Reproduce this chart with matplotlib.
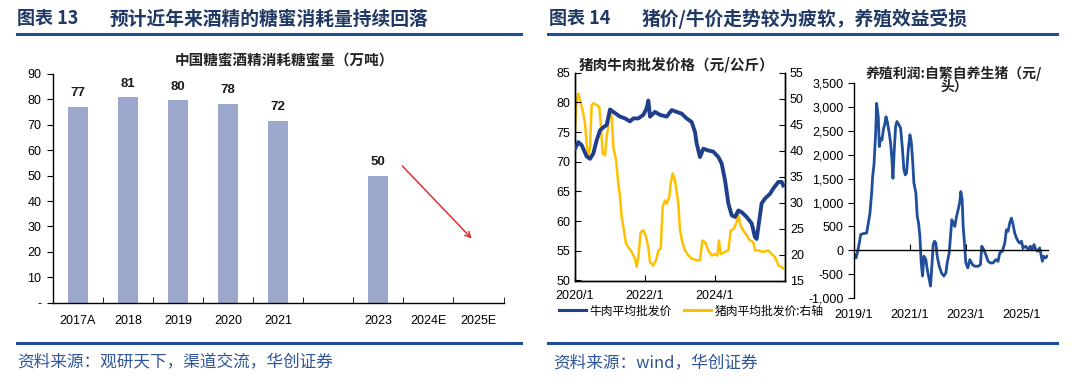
import numpy as np
import matplotlib
matplotlib.use("Agg")
import matplotlib.pyplot as plt
from matplotlib.lines import Line2D
from matplotlib.ticker import FuncFormatter

# ---------------- data ----------------
bar_cats = ['2017A', '2018', '2019', '2020', '2021', '', '2023', '2024E', '2025E']
bar_vals = [77.2, 80.8, 79.6, 78.2, 71.6, np.nan, 50.0, np.nan, np.nan]

beef_t = [2020.0, 2020.095, 2020.19, 2020.333, 2020.429, 2020.524, 2020.619, 2020.714, 2020.81,
          2020.905, 2021.0, 2021.095, 2021.19, 2021.286, 2021.429, 2021.571, 2021.667, 2021.81,
          2021.952, 2022.048, 2022.095, 2022.143, 2022.286, 2022.429, 2022.619, 2022.762, 2022.905,
          2023.048, 2023.19, 2023.333, 2023.429, 2023.476, 2023.571, 2023.667, 2023.81, 2023.952,
          2024.095, 2024.19, 2024.286, 2024.381, 2024.476, 2024.571, 2024.667, 2024.762, 2024.905,
          2025.048, 2025.143, 2025.19, 2025.238, 2025.333, 2025.429, 2025.571, 2025.667, 2025.81,
          2025.905, 2025.95]
beef_v = [72.2, 73.3, 72.8, 70.9, 70.5, 71.4, 73.6, 75.3, 75.8,
          76.2, 78.8, 78.4, 78.0, 77.6, 77.3, 76.8, 77.3, 77.3,
          77.9, 79.0, 80.3, 77.6, 78.4, 77.9, 77.6, 78.7, 78.4,
          78.1, 77.3, 76.7, 75.0, 73.1, 70.8, 72.2, 71.9, 71.7,
          70.8, 69.7, 66.9, 63.0, 61.0, 60.7, 61.8, 61.5, 60.7,
          59.6, 57.3, 57.0, 59.0, 63.0, 63.8, 64.6, 65.5, 66.6,
          66.6, 66.0]

pork_t = [2020.0, 2020.048, 2020.095, 2020.143, 2020.238, 2020.286, 2020.333, 2020.381, 2020.429,
          2020.476, 2020.524, 2020.619, 2020.695, 2020.743, 2020.79, 2020.857, 2020.905, 2020.952,
          2021.0, 2021.048, 2021.095, 2021.171, 2021.238, 2021.286, 2021.333, 2021.4, 2021.457,
          2021.524, 2021.619, 2021.714, 2021.762, 2021.81, 2021.876, 2021.952, 2022.029, 2022.095,
          2022.143, 2022.238, 2022.314, 2022.381, 2022.448, 2022.505, 2022.571, 2022.619, 2022.695,
          2022.733, 2022.79, 2022.857, 2022.952, 2023.0, 2023.076, 2023.143, 2023.238, 2023.333,
          2023.476, 2023.571, 2023.638, 2023.714, 2023.81, 2023.905, 2024.0, 2024.067, 2024.114,
          2024.162, 2024.286, 2024.381, 2024.448, 2024.543, 2024.619, 2024.667, 2024.714, 2024.81,
          2024.905, 2025.0, 2025.095, 2025.143, 2025.238, 2025.381, 2025.524, 2025.619, 2025.714,
          2025.81, 2025.905, 2025.95]
pork_v = [43.9, 49.7, 51.0, 49.7, 47.2, 45.2, 41.4, 38.8, 40.7,
          48.8, 49.1, 48.8, 48.4, 44.6, 39.4, 39.1, 42.7, 44.6,
          47.8, 46.5, 40.7, 38.2, 33.6, 31.1, 27.2, 24.6, 22.1,
          21.4, 20.5, 19.2, 17.6, 19.5, 24.3, 24.7, 23.4, 21.4,
          18.5, 17.9, 18.9, 20.8, 21.1, 29.2, 30.4, 29.8, 31.1,
          33.6, 35.6, 34.3, 29.8, 24.6, 22.1, 20.8, 19.8, 19.2,
          18.9, 18.9, 22.7, 22.4, 20.8, 19.8, 20.1, 19.8, 22.7,
          20.1, 20.5, 20.8, 24.6, 25.0, 26.3, 27.9, 25.9, 24.6,
          23.7, 22.7, 22.4, 20.8, 20.8, 20.5, 20.8, 20.1, 19.5,
          17.9, 17.6, 17.3]

profit_t = [2019.036, 2019.071, 2019.119, 2019.19, 2019.238, 2019.333, 2019.452, 2019.512, 2019.571,
            2019.631, 2019.667, 2019.714, 2019.774, 2019.81, 2019.869, 2019.905, 2019.952, 2020.0,
            2020.048, 2020.107, 2020.143, 2020.19, 2020.262, 2020.31, 2020.357, 2020.393, 2020.44,
            2020.488, 2020.536, 2020.607, 2020.667, 2020.726, 2020.786, 2020.833, 2020.881, 2020.94,
            2021.0, 2021.048, 2021.095, 2021.143, 2021.214, 2021.262, 2021.31, 2021.357, 2021.405,
            2021.452, 2021.5, 2021.571, 2021.619, 2021.69, 2021.738, 2021.786, 2021.833, 2021.881,
            2021.929, 2021.976, 2022.048, 2022.131, 2022.214, 2022.286, 2022.333, 2022.405, 2022.452,
            2022.5, 2022.548, 2022.607, 2022.667, 2022.726, 2022.786, 2022.821, 2022.869, 2022.905,
            2022.952, 2023.0, 2023.071, 2023.143, 2023.238, 2023.321, 2023.44, 2023.524, 2023.571,
            2023.643, 2023.714, 2023.798, 2023.881, 2023.976, 2024.071, 2024.155, 2024.214, 2024.31,
            2024.393, 2024.452, 2024.512, 2024.571, 2024.631, 2024.69, 2024.75, 2024.81, 2024.869,
            2024.929, 2024.988, 2025.048, 2025.143, 2025.238, 2025.31, 2025.369, 2025.44, 2025.5,
            2025.571, 2025.643, 2025.69, 2025.738, 2025.786, 2025.857, 2025.905]
profit_v = [-100, -160, -56, 150, 330, 350, 360, 570, 780,
            1200, 1550, 1790, 2450, 3080, 2800, 2175, 2350, 2310,
            2520, 2660, 2800, 2700, 2450, 2240, 1900, 1510, 2100,
            2590, 2700, 2630, 2560, 2175, 1690, 1580, 1620, 2100,
            2420, 2280, 1900, 1410, 1200, 710, 570, 290, -265,
            -540, -125, -195, -400, -610, -750, -330, 120, 190,
            150, -125, -330, -475, -540, -475, -265, -55, 290,
            640, 570, 500, 710, 850, 1020, 1230, 1060, 500,
            150, -265, -370, -195, -300, -335, -335, -300, 85,
            14, -90, -230, -265, -265, -195, -230, -55, -20,
            150, 430, 400, 570, 675, 540, 360, 260, 190,
            150, 190, 50, 85, 14, 85, 14, 120, 14,
            -20, 50, -90, -230, -125, -160, -125]

# ---------------- styling ----------------
W, H = 1080, 387
NAVY = '#1F3F8C'
TITLE_BLUE = '#1F3864'
LINE_BLUE = '#1F4E96'
SRC_BLUE = '#2E5597'
CJK = ['Noto Sans CJK SC', 'DejaVu Sans']
NUM = ['Liberation Sans', 'DejaVu Sans']
plt.rcParams['font.family'] = NUM
plt.rcParams['axes.linewidth'] = 1.0

fig = plt.figure(figsize=(W / 100, H / 100), dpi=100)


def rect(l, t, r, b):
    return [l / W, 1 - b / H, (r - l) / W, (b - t) / H]


def fx(x):
    return x / W


def fy(y):
    return 1 - y / H


# headers and footers
fig.text(fx(17), fy(19), '图表 13', family=CJK,
         fontsize=13, fontweight='bold', color=TITLE_BLUE, va='center', ha='left')
fig.text(fx(110), fy(19), '预计近年来酒精的糖蜜消耗量持续回落', family=CJK,
         fontsize=13.5, fontweight='bold', color=TITLE_BLUE, va='center', ha='left')
fig.text(fx(549), fy(19), '图表 14', family=CJK,
         fontsize=13, fontweight='bold', color=TITLE_BLUE, va='center', ha='left')
fig.text(fx(642), fy(19), '猪价/牛价走势较为疲软，养殖效益受损', family=CJK,
         fontsize=13.5, fontweight='bold', color=TITLE_BLUE, va='center', ha='left')
for (x0, x1) in [(17, 521), (548, 1057)]:
    fig.add_artist(Line2D([fx(x0), fx(x1)], [fy(34), fy(34)], color=LINE_BLUE, lw=2.2))
    fig.add_artist(Line2D([fx(x0), fx(x1)], [fy(343), fy(343)], color=LINE_BLUE, lw=2.2))
fig.text(fx(17), fy(363), '资料来源：观研天下，渠道交流，华创证券', family=CJK,
         fontsize=12, color=SRC_BLUE, va='center', ha='left')
fig.text(fx(553), fy(363), '资料来源：wind，华创证券', family=CJK,
         fontsize=12, color=SRC_BLUE, va='center', ha='left')

# ---------------- bar chart ----------------
ax = fig.add_axes(rect(52.6, 74, 503.6, 302.7))
xs = np.arange(len(bar_cats))
ax.bar(xs, bar_vals, width=0.4, color='#9BA8CB', zorder=2)
for x, v in zip(xs, bar_vals):
    if not np.isnan(v):
        ax.text(x, v + 3, f'{v:.0f}', ha='center', va='bottom', fontsize=9.5,
                fontweight='bold', color='#1a1a1a')
ax.set_xlim(-0.5, len(bar_cats) - 0.5)
ax.set_ylim(0, 90)
ax.set_yticks(np.arange(0, 91, 10))
ax.yaxis.set_major_formatter(FuncFormatter(lambda v, p: '-' if v == 0 else f'{v:.0f}'))
ax.set_xticks(xs)
ax.set_xticklabels(bar_cats)
ax.set_xticks(np.arange(-0.5, len(bar_cats)), minor=True)
ax.tick_params(axis='x', which='major', length=0, pad=9, labelsize=9)
ax.tick_params(axis='x', which='minor', length=4, direction='in')
ax.tick_params(axis='y', length=4, direction='out', labelsize=9, pad=4)
for s in ['top', 'right']:
    ax.spines[s].set_visible(False)
ax.annotate('', xy=(7.9, 24.5), xytext=(6.44, 54.6),
            arrowprops=dict(arrowstyle='->', color='#E02020', lw=1.0))
fig.text(fx(284), fy(60), '中国糖蜜酒精消耗糖蜜量（万吨）', family=CJK, fontsize=10.5,
         fontweight='bold', ha='center', va='center', color='#222222')

# ---------------- pork / beef ----------------
a1 = fig.add_axes(rect(575, 72.7, 785, 280.5))
a1.plot(beef_t, beef_v, color=NAVY, lw=2.8, zorder=3)
a1.set_xlim(2020, 2026)
a1.set_ylim(50, 85)
a1.set_yticks(np.arange(50, 86, 5))
a1.set_xticks([2020, 2022, 2024])
a1.set_xticklabels(['2020/1', '2022/1', '2024/1'])
a1.tick_params(axis='both', direction='in', length=4, labelsize=9)
a1.tick_params(axis='x', pad=7)
a1.spines['top'].set_visible(False)
a2 = a1.twinx()
a2.plot(pork_t, pork_v, color='#FFC000', lw=1.8, zorder=2)
a2.set_ylim(15, 55)
a2.set_yticks(np.arange(15, 56, 5))
a2.tick_params(axis='y', direction='in', length=4, labelsize=9)
a2.spines['top'].set_visible(False)
a1.set_zorder(a2.get_zorder() + 1)
a1.patch.set_visible(False)
fig.text(fx(677), fy(64), '猪肉牛肉批发价格（元/公斤）', family=CJK, fontsize=10.5,
         fontweight='bold', ha='center', va='center', color='#222222')
handles = [Line2D([], [], color=NAVY, lw=2.2), Line2D([], [], color='#FFC000', lw=2.2)]
fig.legend(handles, ['牛肉平均批发价', '猪肉平均批发价:右轴'], loc='center left',
           bbox_to_anchor=(fx(553), fy(311)), ncol=2, frameon=False,
           prop={'family': CJK, 'size': 8.5}, handlelength=2.3, handletextpad=0.3,
           columnspacing=1.0, borderpad=0)

# ---------------- profit ----------------
a3 = fig.add_axes(rect(854, 83.3, 1048, 298))
a3.plot(profit_t, profit_v, color='#1F4E9A', lw=2.0)
a3.set_xlim(2019, 2025.94)
a3.set_ylim(-1000, 3500)
a3.set_yticks(np.arange(-1000, 3501, 500))
a3.yaxis.set_major_formatter(FuncFormatter(lambda v, p: f'{v:,.0f}'))
a3.tick_params(axis='y', direction='out', length=4, labelsize=9)
a3.spines['bottom'].set_position(('data', 0))
a3.set_xticks([2019, 2021, 2023, 2025])
a3.tick_params(axis='x', direction='in', length=4, labelbottom=False)
for s in ['top', 'right']:
    a3.spines[s].set_visible(False)
sec = a3.secondary_xaxis(0)
sec.set_xticks([2019, 2021, 2023, 2025])
sec.set_xticklabels(['2019/1', '2021/1', '2023/1', '2025/1'])
sec.tick_params(length=0, labelsize=9, pad=8)
sec.spines['bottom'].set_visible(False)
fig.text(fx(954), fy(73), '养殖利润:自繁自养生猪（元/', family=CJK, fontsize=10,
         fontweight='bold', ha='center', va='center', color='#222222')
fig.text(fx(954), fy(87), '头）', family=CJK, fontsize=10,
         fontweight='bold', ha='center', va='center', color='#222222')

fig.savefig('out.png', dpi=100)
